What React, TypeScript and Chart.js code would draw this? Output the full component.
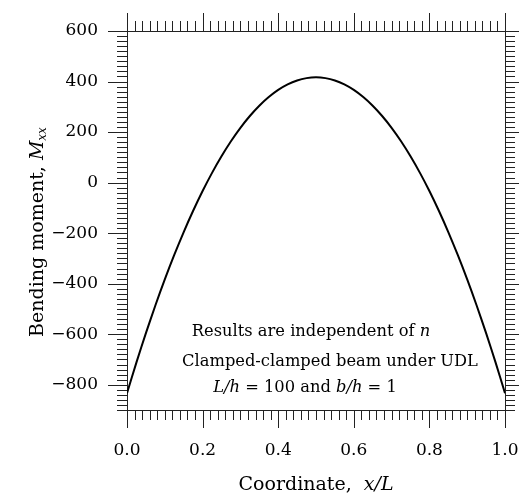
import React, { useEffect, useRef } from "react";
import { Chart, registerables } from "chart.js";

Chart.register(...registerables);

// ---- data ----
const coordinates = [
  0, 0.025, 0.05, 0.075, 0.1, 0.125, 0.15, 0.175, 0.2, 0.225, 0.25, 0.275, 0.3, 0.325, 0.35, 0.375, 0.4,
  0.425, 0.45, 0.475, 0.5, 0.525, 0.55, 0.575, 0.6, 0.625, 0.65, 0.675, 0.7, 0.725, 0.75, 0.775, 0.8,
  0.825, 0.85, 0.875, 0.9, 0.925, 0.95, 0.975, 1.0,
];
const bendingMoment = [
  -833.3, -711.5, -595.8, -486.5, -383.3, -286.5, -195.8, -111.5, -33.3, 38.5, 104.2, 163.5, 216.7,
  263.5, 304.2, 338.5, 366.7, 388.5, 404.2, 413.5, 416.7, 413.5, 404.2, 388.5, 366.7, 338.5, 304.2,
  263.5, 216.7, 163.5, 104.2, 38.5, -33.3, -111.5, -195.8, -286.5, -383.3, -486.5, -595.8, -711.5, -833.3,
];
const xRange = [0, 1];
const yRange = [-900, 600];
const xMajorTicks = [0, 0.2, 0.4, 0.6, 0.8, 1.0];
const yMajorTicks = [-800, -600, -400, -200, 0, 200, 400, 600];
const xMinorStep = 0.02;
const yMinorStep = 20;

const FONT = "'DejaVu Serif', serif";

type Run = { text: string; font: string; dy?: number };

function drawRuns(ctx: CanvasRenderingContext2D, runs: Run[], cx: number, y: number) {
  let total = 0;
  const widths: number[] = [];
  runs.forEach((r) => {
    ctx.font = r.font;
    const w = ctx.measureText(r.text).width;
    widths.push(w);
    total += w;
  });
  let x = cx - total / 2;
  ctx.textAlign = "left";
  runs.forEach((r, i) => {
    ctx.font = r.font;
    ctx.fillText(r.text, x, y + (r.dy || 0));
    x += widths[i];
  });
}

const framePlugin = {
  id: "frameTicks",
  afterDraw(chart: any) {
    const { ctx, chartArea } = chart;
    const xs = chart.scales.x;
    const ys = chart.scales.y;
    const { left, right, top, bottom } = chartArea;
    ctx.save();
    ctx.strokeStyle = "#222";
    ctx.lineWidth = 1;
    ctx.beginPath();
    // top & right frame lines
    ctx.moveTo(Math.round(left), Math.round(top) + 0.5);
    ctx.lineTo(Math.round(right) + 1, Math.round(top) + 0.5);
    ctx.moveTo(Math.round(right) + 0.5, Math.round(top));
    ctx.lineTo(Math.round(right) + 0.5, Math.round(bottom));
    // x ticks
    const nx = Math.round((xRange[1] - xRange[0]) / xMinorStep);
    for (let i = 0; i <= nx; i++) {
      const v = xRange[0] + i * xMinorStep;
      const major = xMajorTicks.some((m) => Math.abs(m - v) < 1e-6);
      const len = major ? 18 : 10;
      const px = Math.round(xs.getPixelForValue(v)) + 0.5;
      ctx.moveTo(px, bottom);
      ctx.lineTo(px, bottom + len);
      ctx.moveTo(px, top);
      ctx.lineTo(px, top - len);
    }
    // y ticks
    const ny = Math.round((yRange[1] - yRange[0]) / yMinorStep);
    for (let i = 0; i <= ny; i++) {
      const v = yRange[0] + i * yMinorStep;
      const major = yMajorTicks.some((m) => Math.abs(m - v) < 1e-6);
      const len = major ? 19 : 10;
      const py = Math.round(ys.getPixelForValue(v)) + 0.5;
      ctx.moveTo(left, py);
      ctx.lineTo(left - len, py);
      ctx.moveTo(right, py);
      ctx.lineTo(right + len, py);
    }
    ctx.stroke();

    // annotations
    ctx.fillStyle = "#000";
    ctx.textBaseline = "alphabetic";
    const r16 = `16.3px ${FONT}`;
    const i16 = `italic 16.3px ${FONT}`;
    drawRuns(ctx, [
      { text: "Results are independent of ", font: r16 },
      { text: "n", font: i16 },
    ], 311, 336);
    drawRuns(ctx, [{ text: "Clamped-clamped beam under UDL", font: r16 }], 330, 366);
    drawRuns(ctx, [
      { text: "L", font: i16 },
      { text: "/", font: i16 },
      { text: "h", font: i16 },
      { text: " = 100 and ", font: r16 },
      { text: "b", font: i16 },
      { text: "/", font: i16 },
      { text: "h", font: i16 },
      { text: " = 1", font: r16 },
    ], 305, 392);

    // x title
    const r19 = `19px ${FONT}`;
    const i19 = `italic 19px ${FONT}`;
    drawRuns(ctx, [
      { text: "Coordinate,  ", font: r19 },
      { text: "x", font: i19 },
      { text: "/", font: i19 },
      { text: "L", font: i19 },
    ], 316, 490);

    // y title
    ctx.save();
    ctx.translate(38, 232);
    ctx.rotate(-Math.PI / 2);
    ctx.textBaseline = "middle";
    drawRuns(ctx, [
      { text: "Bending moment, ", font: r19 },
      { text: "M", font: i19 },
      { text: "xx", font: `italic 12px ${FONT}`, dy: 5 },
    ], 0, 0);
    ctx.restore();

    ctx.restore();
  },
};

export default function App() {
  const canvasRef = useRef<HTMLCanvasElement | null>(null);

  useEffect(() => {
    const canvas = canvasRef.current;
    if (!canvas) return;
    const chart = new Chart(canvas, {
      type: "line",
      data: {
        datasets: [
          {
            data: coordinates.map((x, i) => ({ x, y: bendingMoment[i] })),
            borderColor: "#000",
            borderWidth: 2,
            pointRadius: 0,
            fill: false,
            tension: 0.3,
          },
        ],
      },
      options: {
        responsive: false,
        animation: false,
        devicePixelRatio: 1,
        layout: { padding: { top: 31, right: 14, left: 0, bottom: 0 } },
        plugins: { legend: { display: false }, tooltip: { enabled: false }, title: { display: false } },
        scales: {
          x: {
            type: "linear",
            min: xRange[0],
            max: xRange[1],
            afterBuildTicks: (s: any) => {
              s.ticks = xMajorTicks.map((v) => ({ value: v }));
            },
            afterFit: (s: any) => {
              s.height = 85;
              s.paddingLeft = 0;
              s.paddingRight = 0;
            },
            ticks: {
              callback: (v: any) => Number(v).toFixed(1),
              font: { family: FONT, size: 17 },
              color: "#000",
              padding: 30,
              maxRotation: 0,
              autoSkip: false,
            },
            grid: { display: false, drawTicks: false },
            border: { display: true, color: "#222", width: 1 },
          },
          y: {
            type: "linear",
            min: yRange[0],
            max: yRange[1],
            afterBuildTicks: (s: any) => {
              s.ticks = yMajorTicks.map((v) => ({ value: v }));
            },
            afterFit: (s: any) => {
              s.width = 127;
              s.paddingTop = 0;
              s.paddingBottom = 0;
            },
            ticks: {
              callback: (v: any) => (Number(v) < 0 ? "\u2212" + Math.abs(Number(v)) : String(v)),
              font: { family: FONT, size: 17 },
              color: "#000",
              padding: 29,
              autoSkip: false,
            },
            grid: { display: false, drawTicks: false },
            border: { display: true, color: "#222", width: 1 },
          },
        },
      },
      plugins: [framePlugin],
    });
    return () => chart.destroy();
  }, []);

  return (
    <div style={{ position: "absolute", left: 0, top: 0, width: 519, height: 495, background: "#fff" }}>
      <canvas ref={canvasRef} width={519} height={495} />
    </div>
  );
}
